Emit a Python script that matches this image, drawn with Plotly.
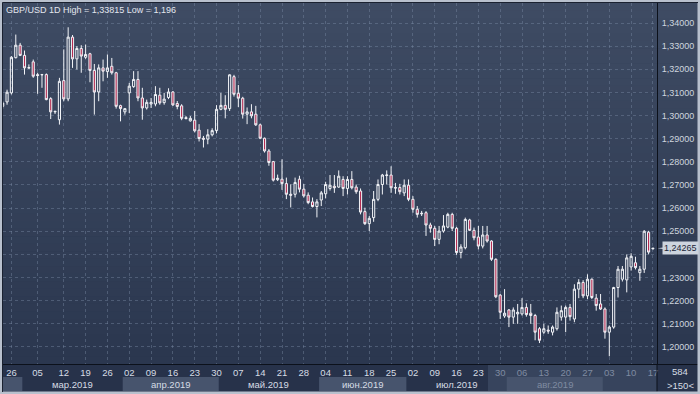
import plotly.graph_objects as go
from datetime import date, timedelta

# ---------------- data ----------------
extra_sessions = ["2019-03-03", "2019-03-10"]   # short Sunday sessions shown by the terminal
first_day, last_day = date(2019, 2, 22), date(2019, 9, 17)
dates = []
_d = first_day
while _d <= last_day:
    if _d.weekday() < 5 or _d.isoformat() in extra_sessions:
        dates.append(_d.isoformat())
    _d += timedelta(days=1)

opens = [1.3040, 1.3059, 1.3098, 1.3250, 1.3304, 1.3260, 1.3205, 1.3232, 1.3177, 1.3176,
         1.3177, 1.3073, 1.3016, 1.2982, 1.3151, 1.3072, 1.3339, 1.3245, 1.3290, 1.3252,
         1.3267, 1.3195, 1.3102, 1.3206, 1.3190, 1.3213, 1.3185, 1.3043, 1.3016, 1.3098,
         1.3125, 1.3156, 1.3076, 1.3033, 1.3050, 1.3050, 1.3088, 1.3056, 1.3078, 1.3102,
         1.3052, 1.3042, 1.2991, 1.2977, 1.2980, 1.2937, 1.2902, 1.2898, 1.2917, 1.2935,
         1.3027, 1.3044, 1.3030, 1.3168, 1.3096, 1.3075, 1.3006, 1.3016, 1.3006, 1.2960,
         1.2902, 1.2847, 1.2801, 1.2723, 1.2725, 1.2706, 1.2660, 1.2660, 1.2725, 1.2682,
         1.2656, 1.2627, 1.2607, 1.2635, 1.2662, 1.2685, 1.2695, 1.2691, 1.2724, 1.2685,
         1.2724, 1.2691, 1.2674, 1.2585, 1.2533, 1.2559, 1.2638, 1.2702, 1.2741, 1.2743,
         1.2689, 1.2689, 1.2666, 1.2699, 1.2638, 1.2595, 1.2578, 1.2580, 1.2527, 1.2513,
         1.2465, 1.2501, 1.2518, 1.2573, 1.2513, 1.2408, 1.2429, 1.2549, 1.2504, 1.2475,
         1.2436, 1.2484, 1.2458, 1.2379, 1.2224, 1.2134, 1.2160, 1.2129, 1.2143, 1.2143,
         1.2171, 1.2146, 1.2136, 1.2079, 1.2064, 1.2073, 1.2064, 1.2079, 1.2129, 1.2129,
         1.2171, 1.2121, 1.2250, 1.2279, 1.2221, 1.2293, 1.2211, 1.2186, 1.2164, 1.2064,
         1.2086, 1.2257, 1.2293, 1.2290, 1.2346, 1.2364, 1.2321, 1.2336, 1.2496, 1.2424]
highs = [1.3062, 1.3112, 1.3257, 1.3350, 1.3314, 1.3281, 1.3221, 1.3242, 1.3185, 1.3180,
         1.3182, 1.3079, 1.3021, 1.3163, 1.3286, 1.33815, 1.3348, 1.3300, 1.3304, 1.3307,
         1.3271, 1.3223, 1.3221, 1.3242, 1.3264, 1.3249, 1.3189, 1.3047, 1.3030, 1.3141,
         1.3192, 1.3192, 1.3120, 1.3069, 1.3076, 1.3127, 1.3120, 1.3098, 1.3118, 1.3106,
         1.3063, 1.3049, 1.2998, 1.2998, 1.3020, 1.2963, 1.2912, 1.2941, 1.2945, 1.3045,
         1.3098, 1.3088, 1.3178, 1.3176, 1.3132, 1.3081, 1.3035, 1.3049, 1.3042, 1.2965,
         1.2905, 1.2855, 1.2804, 1.2745, 1.2811, 1.2732, 1.2703, 1.2732, 1.2740, 1.2704,
         1.2668, 1.2646, 1.2639, 1.2674, 1.2714, 1.2743, 1.2743, 1.2763, 1.2738, 1.2738,
         1.2760, 1.2702, 1.2685, 1.2602, 1.2566, 1.2674, 1.2724, 1.2748, 1.2763, 1.2781,
         1.2709, 1.2705, 1.2724, 1.2724, 1.2652, 1.2609, 1.2588, 1.2587, 1.2537, 1.2523,
         1.2523, 1.2570, 1.2580, 1.2580, 1.2519, 1.2444, 1.2559, 1.2554, 1.2516, 1.2523,
         1.2523, 1.2523, 1.2461, 1.2383, 1.2229, 1.2250, 1.2164, 1.2171, 1.2186, 1.2211,
         1.2189, 1.2186, 1.2143, 1.2086, 1.2100, 1.2093, 1.2093, 1.2171, 1.2179, 1.2179,
         1.2186, 1.2271, 1.2293, 1.2289, 1.2314, 1.2296, 1.2229, 1.2229, 1.2171, 1.2093,
         1.2260, 1.2350, 1.2350, 1.2400, 1.2405, 1.2390, 1.2350, 1.2505, 1.2502, 1.2428]
lows = [1.3030, 1.3047, 1.3091, 1.3247, 1.3257, 1.3177, 1.3203, 1.3163, 1.3094, 1.3120,
        1.3066, 1.2985, 1.3007, 1.2961, 1.3062, 1.3062, 1.3206, 1.3199, 1.3185, 1.3245,
        1.3144, 1.3004, 1.3062, 1.3148, 1.3163, 1.3177, 1.3030, 1.2975, 1.3004, 1.3011,
        1.3120, 1.3062, 1.2982, 1.3026, 1.3033, 1.3040, 1.3047, 1.3047, 1.3071, 1.3042,
        1.3027, 1.2980, 1.2984, 1.2974, 1.2927, 1.2888, 1.2862, 1.2876, 1.2910, 1.2923,
        1.3023, 1.2988, 1.3020, 1.3082, 1.3037, 1.2987, 1.2963, 1.2988, 1.2955, 1.2898,
        1.2840, 1.2783, 1.2715, 1.2717, 1.2679, 1.2639, 1.2603, 1.2646, 1.2668, 1.2646,
        1.2617, 1.2603, 1.2560, 1.2609, 1.2642, 1.2676, 1.2666, 1.2688, 1.2652, 1.2659,
        1.2681, 1.2662, 1.2573, 1.2527, 1.2501, 1.2541, 1.2630, 1.2659, 1.2702, 1.2666,
        1.2662, 1.2659, 1.2652, 1.2630, 1.2580, 1.2559, 1.2566, 1.2480, 1.2494, 1.2436,
        1.2444, 1.2494, 1.2513, 1.2501, 1.2398, 1.2383, 1.2422, 1.2501, 1.2461, 1.2422,
        1.2426, 1.2451, 1.2372, 1.2211, 1.2121, 1.2126, 1.2086, 1.2100, 1.2100, 1.2136,
        1.2131, 1.2100, 1.2029, 1.2017, 1.2057, 1.2057, 1.2050, 1.2071, 1.2114, 1.2064,
        1.2114, 1.2107, 1.2211, 1.2211, 1.2207, 1.2207, 1.2157, 1.2160, 1.2036, 1.1960,
        1.2079, 1.2214, 1.2283, 1.2236, 1.2330, 1.2335, 1.2286, 1.2320, 1.2400, 1.2422]
closes = [1.3054, 1.3101, 1.3252, 1.3304, 1.3260, 1.3206, 1.3207, 1.3170, 1.3173, 1.3177,
          1.3069, 1.3016, 1.3018, 1.3148, 1.3072, 1.3339, 1.3245, 1.3290, 1.3257, 1.3264,
          1.3195, 1.3102, 1.3206, 1.3192, 1.3206, 1.3185, 1.3040, 1.3030, 1.3030, 1.3127,
          1.3156, 1.3076, 1.3033, 1.3057, 1.3057, 1.3091, 1.3055, 1.3071, 1.3102, 1.3046,
          1.3039, 1.2988, 1.2987, 1.2988, 1.2934, 1.2901, 1.2898, 1.2917, 1.2935, 1.3027,
          1.3044, 1.3027, 1.3176, 1.3092, 1.3075, 1.3006, 1.3016, 1.2999, 1.2960, 1.2902,
          1.2847, 1.2797, 1.2721, 1.2729, 1.2706, 1.2660, 1.2656, 1.2711, 1.2682, 1.2653,
          1.2624, 1.2607, 1.2627, 1.2666, 1.2702, 1.2699, 1.2688, 1.2738, 1.2685, 1.2724,
          1.2688, 1.2671, 1.2583, 1.2533, 1.2556, 1.2638, 1.2702, 1.2743, 1.2743, 1.2688,
          1.2687, 1.2671, 1.2699, 1.2638, 1.2595, 1.2573, 1.2576, 1.2527, 1.2513, 1.2465,
          1.2501, 1.2523, 1.2573, 1.2513, 1.2408, 1.2432, 1.2551, 1.2504, 1.2472, 1.2436,
          1.2484, 1.2458, 1.2379, 1.2217, 1.2150, 1.2146, 1.2129, 1.2160, 1.2150, 1.2171,
          1.2140, 1.2136, 1.2064, 1.2029, 1.2079, 1.2069, 1.2086, 1.2150, 1.2157, 1.2171,
          1.2131, 1.2250, 1.2279, 1.2221, 1.2293, 1.2214, 1.2179, 1.2164, 1.2064, 1.2086,
          1.2257, 1.2336, 1.2336, 1.2385, 1.2392, 1.2343, 1.2336, 1.2500, 1.2410, 1.24265]

price_ticks = [1.20, 1.21, 1.22, 1.23, 1.24, 1.25, 1.26, 1.27, 1.28, 1.29, 1.30, 1.31, 1.32, 1.33, 1.34]
month_names = {2: "фев.2019", 3: "мар.2019", 4: "апр.2019", 5: "май.2019",
               6: "июн.2019", 7: "июл.2019", 8: "авг.2019", 9: "сен.2019"}
dim_from = "2019-07-30"
bars_text = "584"

# ---------------- style ----------------
W, H = 700, 394
L, R, T, B = 3, 43, 3, 30
PW, PH = W - L - R, H - T - B
def px_x(x): return (x - L) / PW
def px_y(y): return (H - B - y) / PH

FONT = "Liberation Sans, Arial, sans-serif"
GRID = "rgba(125,140,168,0.42)"
TXT = "#d6dce5"
DIM = "#7f8ba1"
X_RANGE = [0.07, len(dates) - 1 + 0.93]
Y_RANGE = [1.19265, 1.34864]

def fmt(v):
    return f"{v:.5f}".replace(".", ",")

fig = go.Figure()
fig.add_trace(go.Candlestick(
    x=dates, open=opens, high=highs, low=lows, close=closes,
    increasing=dict(line=dict(color="#f2f4f8", width=1), fillcolor="rgba(0,0,0,0)"),
    decreasing=dict(line=dict(color="#f2f4f8", width=1), fillcolor="#b42c52"),
    whiskerwidth=0, hoverinfo="skip",
))

# x ticks: Tuesdays
tick_dates, tick_text = [], []
for s in dates:
    if date.fromisoformat(s).weekday() == 1:
        tick_dates.append(s)
        lab = s[8:10]
        tick_text.append(f'<span style="color:{DIM}">{lab}</span>' if s >= dim_from else lab)

y_text = ["" if abs(v - closes[-1]) < 0.004 else fmt(v) for v in price_ticks]

shapes = []
# gradient background (plot + price column)
top_c, bot_c = (62, 75, 99), (43, 55, 79)
N = 48
for i in range(N):
    t = i / (N - 1)
    c = tuple(round(top_c[k] + (bot_c[k] - top_c[k]) * t) for k in range(3))
    y0 = T + i * PH / N
    y1 = T + (i + 1) * PH / N + 0.6
    shapes.append(dict(type="rect", xref="paper", yref="paper", layer="below",
                       x0=px_x(0), x1=px_x(W), y0=px_y(min(y1, H - B)), y1=px_y(y0),
                       fillcolor="rgb(%d,%d,%d)" % c, line=dict(width=0)))
# highlighted (scrolled) part of the time scale
shapes.append(dict(type="rect", xref="paper", yref="paper", layer="below",
                   x0=px_x(488), x1=px_x(657), y0=px_y(391), y1=px_y(365),
                   fillcolor="#37445d", line=dict(width=0)))
# month bands
months = {}
for i, s in enumerate(dates):
    m = int(s[5:7])
    months.setdefault(m, [i, i])
    months[m][1] = i
annotations = []
for k, (m, (a, b)) in enumerate(sorted(months.items())):
    x0, x1 = max(a - 0.5, X_RANGE[0]), min(b + 0.5, X_RANGE[1])
    if k % 2 == 0:
        shapes.append(dict(type="rect", xref="x", yref="paper", layer="below",
                           x0=x0, x1=x1, y0=px_y(391), y1=px_y(377),
                           fillcolor="#47546d", line=dict(width=0)))
    if x1 - x0 > 12:
        col = DIM if dates[a] >= dim_from else TXT
        annotations.append(dict(x=(x0 + x1) / 2, xref="x", y=px_y(384.5), yref="paper",
                                xanchor="center", yanchor="middle", text=month_names[m],
                                showarrow=False, font=dict(family=FONT, size=9.5, color=col)))
# frame and separators
shapes.append(dict(type="line", xref="paper", yref="paper", x0=1, x1=1,
                   y0=px_y(392), y1=px_y(364), line=dict(color="#0c111b", width=1)))
shapes.append(dict(type="line", xref="paper", yref="paper", x0=1, x1=px_x(W),
                   y0=px_y(364.5), y1=px_y(364.5), line=dict(color="#0c111b", width=1)))
shapes.append(dict(type="rect", xref="paper", yref="paper", x0=px_x(0), x1=px_x(W),
                   y0=px_y(H), y1=px_y(0), line=dict(color="#b8c0cd", width=5)))
shapes.append(dict(type="line", xref="paper", yref="paper", x0=px_x(2.5), x1=px_x(2.5),
                   y0=px_y(392), y1=px_y(2.5), line=dict(color="#1a2130", width=1)))
shapes.append(dict(type="line", xref="paper", yref="paper", x0=px_x(2.5), x1=px_x(698),
                   y0=px_y(2.5), y1=px_y(2.5), line=dict(color="#1a2130", width=1)))
# current price marker
last = closes[-1]
dy = 0.00029
shapes.append(dict(type="path", xref="paper", yref="y",
                   path=f"M {px_x(657.5)},{last} L {px_x(663)},{last + dy} L {px_x(663)},{last - dy} Z",
                   fillcolor="#cdd4de", line=dict(width=0)))
annotations.append(dict(x=px_x(662), xref="paper", xanchor="left", y=last, yref="y",
                        yanchor="middle", text=fmt(last), showarrow=False,
                        bgcolor="#cdd4de", borderpad=1,
                        font=dict(family=FONT, size=9, color="#1b2537")))
# title
hi, lo = max(highs), min(lows)
lo_txt = (f"{lo:.5f}".rstrip("0")).replace(".", ",")
annotations.append(dict(x=px_x(4), xref="paper", xanchor="left", y=px_y(9.5), yref="paper",
                        yanchor="middle", text=f"GBP/USD 1D High = {fmt(hi)} Low = {lo_txt}",
                        showarrow=False, font=dict(family=FONT, size=9, color="#e2e6ee")))
# bottom-right cell
annotations.append(dict(x=px_x(680), xref="paper", y=px_y(371.5), yref="paper",
                        xanchor="center", yanchor="middle", text=bars_text,
                        showarrow=False, font=dict(family=FONT, size=9.5, color=TXT)))
annotations.append(dict(x=px_x(680), xref="paper", y=px_y(385), yref="paper",
                        xanchor="center", yanchor="middle", text=f"&gt;{len(dates)}&lt;",
                        showarrow=False, font=dict(family=FONT, size=9.5, color=TXT)))

fig.update_layout(
    width=W, height=H, margin=dict(l=L, r=R, t=T, b=B, autoexpand=False),
    paper_bgcolor="#27324a", plot_bgcolor="rgba(0,0,0,0)",
    showlegend=False, hovermode=False,
    font=dict(family=FONT, size=9.5, color=TXT),
    shapes=shapes, annotations=annotations,
    xaxis=dict(type="category", range=X_RANGE, rangeslider=dict(visible=False),
               tickvals=tick_dates, ticktext=tick_text, tickangle=0,
               showgrid=True, gridcolor=GRID, griddash="3px,3px", gridwidth=1,
               showline=True, linecolor="#0c111b", linewidth=1, ticks="",
               tickfont=dict(family=FONT, size=9.5, color=TXT), fixedrange=True),
    yaxis=dict(side="right", range=Y_RANGE, tickvals=price_ticks, ticktext=y_text,
               showgrid=True, gridcolor=GRID, griddash="3px,3px", gridwidth=1,
               showline=True, linecolor="#0c111b", linewidth=1, ticks="", zeroline=False,
               ticklabelstandoff=2,
               tickfont=dict(family=FONT, size=9, color="#cfd6df"), fixedrange=True),
)

fig.write_html("out.html", config={"displayModeBar": False},
               post_script="document.body.style.margin='0';document.body.style.overflow='hidden';")
